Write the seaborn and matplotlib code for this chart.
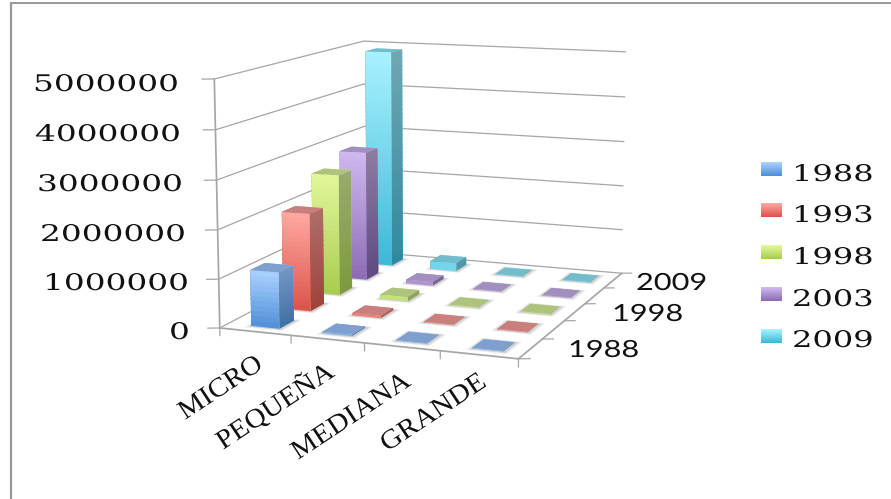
import numpy as np
import matplotlib
matplotlib.use('Agg')
import matplotlib.pyplot as plt
from matplotlib.colors import to_rgba
from matplotlib.patches import Rectangle
from matplotlib.patheffects import AbstractPathEffect
from matplotlib.transforms import Affine2D
import seaborn as sns

sns.set_theme(style='white')

categories = ['MICRO', 'PEQUEÑA', 'MEDIANA', 'GRANDE']
years = ['1988', '1993', '1998', '2003', '2009']
year_ticks = ['1988', '1998', '2009']
v1988 = [1150000, 30000, 12000, 12000]
v1993 = [2050000, 50000, 12000, 12000]
v1998 = [2600000, 90000, 12000, 12000]
v2003 = [2850000, 80000, 12000, 12000]
v2009 = [4900000, 180000, 12000, 12000]
series = [v1988, v1993, v1998, v2003, v2009]
z_ticks = [0, 1000000, 2000000, 3000000, 4000000, 5000000]

# front top, front bottom, side top, side bottom, cap
colors = [
    ('#aad2ff', '#4f8fd8', '#7496c4', '#3f70a3', '#7f9fcf'),
    ('#ffa8a2', '#da5449', '#ad6e69', '#a0433c', '#c97f7d'),
    ('#e2f79c', '#a8cc50', '#97ab6c', '#7d9a3f', '#aec47d'),
    ('#cfb9f0', '#8d6bb5', '#8d7ca2', '#5f4a80', '#a18fbf'),
    ('#a8f2ff', '#3db8d8', '#70a6b1', '#2e8aa0', '#72bccb'),
]
grey = '#a6a6a6'
clear = (1, 1, 1, 0)


def mix(a, b, t):
    a = np.array(matplotlib.colors.to_rgb(a))
    b = np.array(matplotlib.colors.to_rgb(b))
    return tuple(a + (b - a) * t)


# the labels in the picture are stretched sideways
class Stretch(AbstractPathEffect):
    def __init__(self, sx):
        super().__init__()
        self.sx = sx

    def draw_path(self, renderer, gc, tpath, affine, rgbFace=None):
        renderer.draw_path(gc, tpath, Affine2D().scale(self.sx, 1) + affine, rgbFace)


def px(x, y):
    return x / 891, 1 - y / 499


fig = plt.figure(figsize=(8.91, 4.99), dpi=100)
fig.patch.set_facecolor('white')
L = 506.4
cx, cy = 426.0, 309.0
ax = fig.add_axes([(cx - L / 2) / 891, (cy - L / 2) / 499, L / 891, L / 499], projection='3d')
ax.computed_zorder = False
ax.set_proj_type('persp', focal_length=0.668)
ax.view_init(elev=10.49, azim=-69.2)
ax.set_box_aspect((1, 1.189, 0.798))
ax.patch.set_alpha(0)

ax.set_xlim(0, 4)
ax.set_ylim(0, 5)
ax.set_zlim(0, 5000000)
ax.set_xticks(range(5))
ax.set_yticks(range(0, 6))
ax.set_zticks(z_ticks)
ax.set_xticklabels([])
ax.set_yticklabels([])
ax.set_zticklabels([])
ax.zaxis.set_ticks_position('lower')

for axis in [ax.xaxis, ax.yaxis, ax.zaxis]:
    axis.set_pane_color((1, 1, 1, 1))
    axis.pane.set_edgecolor(clear)
    axis.line.set_color(grey)
    axis._axinfo['tick']['inward_factor'] = 0
    axis._axinfo['tick']['outward_factor'] = 0
ax.xaxis._axinfo['grid']['linewidth'] = 0
ax.yaxis._axinfo['grid']['linewidth'] = 0
ax.zaxis._axinfo['grid']['color'] = grey
ax.zaxis._axinfo['grid']['linewidth'] = 0.9
ax.grid(True)

# ticks of the picture: down from the floor, out to the right and to the left
for t in ax.get_xticks():
    ax.plot([t, t], [0, 0], [0, -160000], color=grey, lw=0.9, zorder=5)
for t in ax.get_yticks():
    ax.plot([4, 4.13], [t, t + 0.06], [0, 0], color=grey, lw=0.9, zorder=5)
for t in z_ticks:
    ax.plot([0, -0.14], [0, -0.066], [t, t], color=grey, lw=0.9, zorder=5)
ax.set_xlim(0, 4)
ax.set_ylim(0, 5)
ax.set_zlim(0, 5000000)

dx, dy = 0.40, 0.45
order = 10

# soft shadows first
for j in range(len(years)):
    for i in range(len(categories)):
        x0, y0 = i + 0.53 - dx / 2, j + 0.47 - dy / 2
        ax.bar3d(x0 - 0.05, y0 - 0.08, 0, dx + 0.12, dy + 0.15, 1,
                 color='#ececec', shade=False, linewidth=0, zorder=order)
        ax.bar3d(x0 - 0.02, y0 - 0.04, 0, dx + 0.06, dy + 0.08, 1,
                 color='#d2d2d2', shade=False, linewidth=0, zorder=order + 1)
        order += 2

for j in range(len(years) - 1, -1, -1):
    front_top, front_bot, side_top, side_bot, cap = colors[j]
    for i in range(len(categories)):
        val = series[j][i]
        n = max(1, int(val / 100000))
        edges = np.linspace(0, val, n + 1)
        for k in range(n):
            t = (k + 0.5) / n
            face = to_rgba(mix(front_bot, front_top, t))
            side = to_rgba(mix(side_bot, side_top, t))
            last = k == n - 1
            # only the last slice shows its lid, the others would leave stripes
            face_cols = [clear, to_rgba(cap) if last else clear, face, face, side, side]
            h = edges[k + 1] - edges[k]
            if not last:
                h = h * 1.5
            ax.bar3d(i + 0.53 - dx / 2, j + 0.47 - dy / 2, edges[k], dx, dy, h,
                     color=face_cols, shade=False, linewidth=0, zorder=order)
            order += 1

# frame of the picture
fig.add_artist(plt.Line2D([11 / 891, 11 / 891], [0, 1 - 2.5 / 499], color='#999999', lw=1.6))
fig.add_artist(plt.Line2D([11 / 891, 1], [1 - 2.5 / 499, 1 - 2.5 / 499], color='#999999', lw=1.4))

# value labels
z_pos = [(169, 339), (43, 290), (40, 241), (37, 191), (35, 141), (33, 91)]
for v, (x, y) in zip(z_ticks, z_pos):
    fig.text(*px(x, y), str(v), family='DejaVu Serif', fontsize=16.5, color='#111111',
             ha='left', va='baseline', path_effects=[Stretch(1.43)])

# category labels
x_pos = [(185, 420), (223, 450), (298, 460), (387, 452)]
for c, (x, y) in zip(categories, x_pos):
    fig.text(*px(x, y), c, family='Liberation Serif', fontsize=19.5, rotation=33.5, rotation_mode='anchor',
             ha='left', va='baseline', color='#111111', path_effects=[Stretch(1.07)])

# depth labels
for c, (x, y) in zip(year_ticks, [(568, 357), (612, 321), (636, 290)]):
    fig.text(*px(x, y), c, family='Lato', fontsize=17, ha='left', va='baseline', color='#111111',
             path_effects=[Stretch(1.3)])

# legend, swatches fade like the bars
swatch_top = [162, 203, 245, 287, 329]
legend_base = [181, 222, 264, 306, 347]
for yr, col, top, base in zip(years, colors, swatch_top, legend_base):
    for r in range(14):
        fig.add_artist(Rectangle(px(761, top + r + 1), 21 / 891, 1.2 / 499, transform=fig.transFigure,
                                 facecolor=mix(col[0], col[1], r / 13), edgecolor='none'))
    fig.text(*px(792, base), yr, family='DejaVu Serif', fontsize=16.5, ha='left', va='baseline', color='#111111',
             path_effects=[Stretch(1.4)])

plt.savefig('out.png', dpi=100)
